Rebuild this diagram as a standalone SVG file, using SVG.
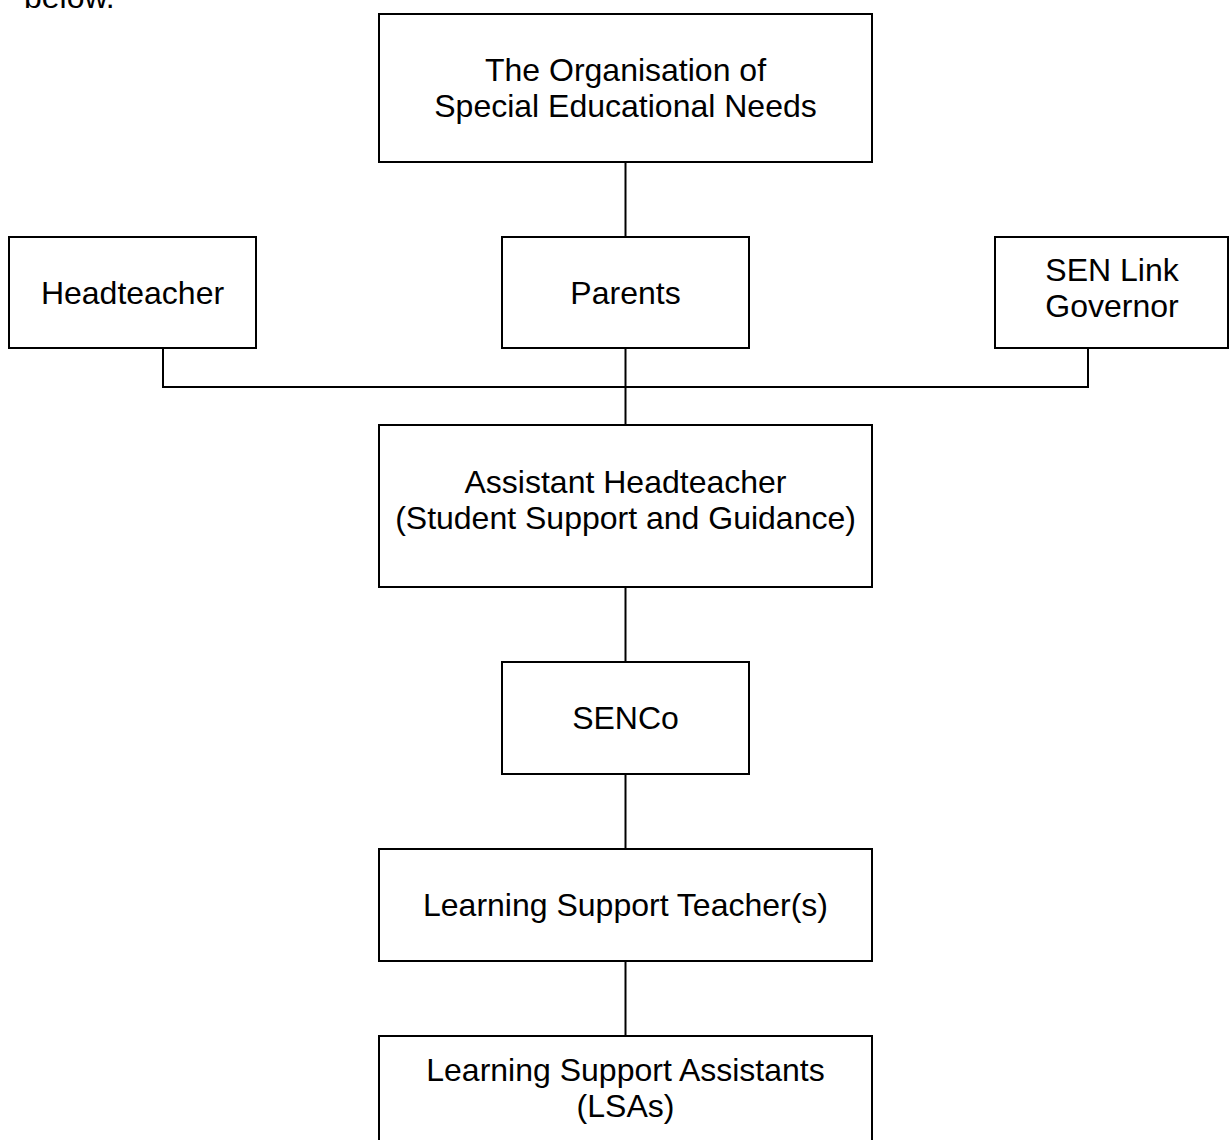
<svg xmlns="http://www.w3.org/2000/svg" width="1230" height="1140" viewBox="0 0 1230 1140">
<style>
.box{fill:#fff;stroke:#000;stroke-width:2}
.t{font-family:"Liberation Sans",Arial,sans-serif;font-size:32px;fill:#000;text-anchor:middle}
.c{fill:none;stroke:#000;stroke-width:2}
</style>
<rect width="1230" height="1140" fill="#fff"/>
<text x="24" y="8" style="font-family:'Liberation Sans',Arial,sans-serif;font-size:32px;fill:#000">below.</text>
<g id="connectors">
<line class="c" x1="625.5" y1="162" x2="625.5" y2="237"/>
<polyline class="c" points="163,348 163,387 1088,387 1088,348"/>
<line class="c" x1="625.5" y1="348" x2="625.5" y2="425"/>
<line class="c" x1="625.5" y1="587" x2="625.5" y2="662"/>
<line class="c" x1="625.5" y1="774" x2="625.5" y2="849"/>
<line class="c" x1="625.5" y1="961" x2="625.5" y2="1036"/>
</g>
<g id="n-organisation">
<rect class="box" x="379" y="14" width="493" height="148"/>
<text class="t" x="625.5" y="81">The Organisation of</text>
<text class="t" x="625.5" y="117">Special Educational Needs</text>
</g>
<g id="n-headteacher">
<rect class="box" x="9" y="237" width="247" height="111"/>
<text class="t" x="132.5" y="304">Headteacher</text>
</g>
<g id="n-parents">
<rect class="box" x="502" y="237" width="247" height="111"/>
<text class="t" x="625.5" y="304">Parents</text>
</g>
<g id="n-governor">
<rect class="box" x="995" y="237" width="233" height="111"/>
<text class="t" x="1112" y="281">SEN Link</text>
<text class="t" x="1112" y="317">Governor</text>
</g>
<g id="n-assistant">
<rect class="box" x="379" y="425" width="493" height="162"/>
<text class="t" x="625.5" y="493">Assistant Headteacher</text>
<text class="t" x="625.5" y="529">(Student Support and Guidance)</text>
</g>
<g id="n-senco">
<rect class="box" x="502" y="662" width="247" height="112"/>
<text class="t" x="625.5" y="729">SENCo</text>
</g>
<g id="n-lst">
<rect class="box" x="379" y="849" width="493" height="112"/>
<text class="t" x="625.5" y="916">Learning Support Teacher(s)</text>
</g>
<g id="n-lsa">
<rect class="box" x="379" y="1036" width="493" height="120"/>
<text class="t" x="625.5" y="1081">Learning Support Assistants</text>
<text class="t" x="625.5" y="1117">(LSAs)</text>
</g>
</svg>
